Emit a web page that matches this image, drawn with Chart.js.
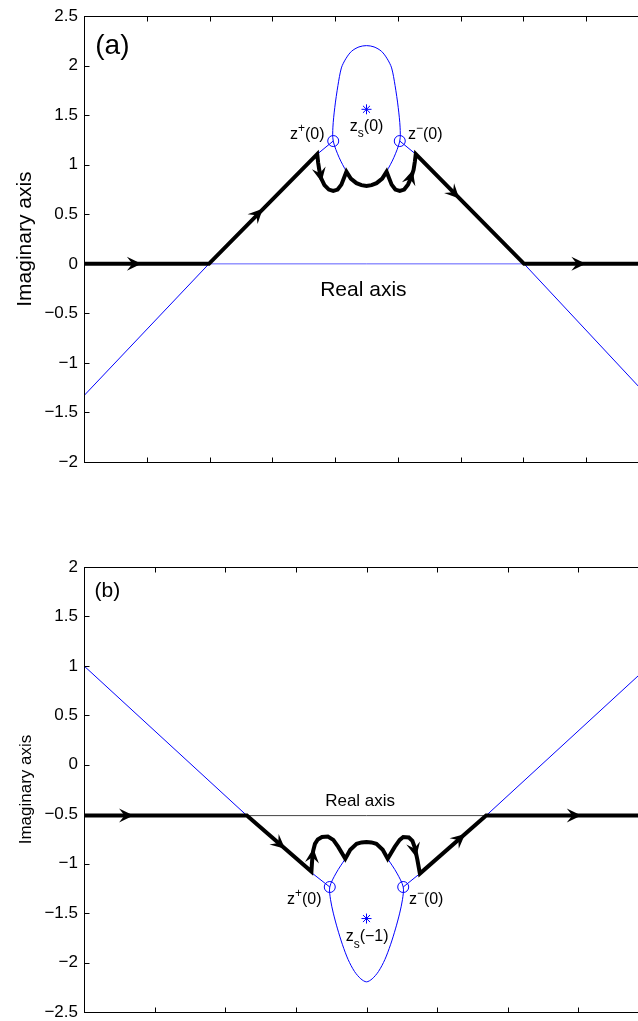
<!DOCTYPE html>
<html>
<head>
<title>Imaginary axis contours</title>
<script src="https://cdn.jsdelivr.net/npm/chart.js"></script>
<style>
  html, body { margin: 0; padding: 0; background: #fff; overflow: hidden; }
  #page { position: relative; width: 638px; height: 1021px; overflow: hidden; background: #fff; }
  canvas { position: absolute; left: 0; }
</style>
</head>
<body>
<div id="page">
  <canvas id="chartA" width="680" height="500" style="top:0px"></canvas>
  <canvas id="chartB" width="680" height="490" style="top:540px"></canvas>
</div>

<script>
// ---- panel (a) ----
var aTicksY = { min: -2, max: 2.5, step: 0.5 };
var aTicksX = { min: -4.5, max: 4.5, step: 1 };

// thick black path with the two hooks
var aPathX = [-4.5, -2.51, -0.785, -0.77, -0.75, -0.72, -0.67, -0.60, -0.53, -0.46, -0.40, -0.32, -0.25, -0.16, -0.08, 0,
              0.08, 0.16, 0.25, 0.32, 0.40, 0.46, 0.53, 0.60, 0.66, 0.71, 0.75, 0.77, 0.785, 2.51, 4.5];
var aPathY = [0, 0, 1.107, 1.02, 0.94, 0.86, 0.795, 0.75, 0.737, 0.75, 0.80, 0.93, 0.86, 0.815, 0.795, 0.787,
              0.795, 0.815, 0.86, 0.93, 0.80, 0.75, 0.737, 0.75, 0.80, 0.87, 0.95, 1.03, 1.107, 0, 0];

// thin blue curves
var aRealX = [-4.5, 4.5];
var aRealY = [0, 0];
var aLeftX = [-4.5, -2.51, -0.785, -0.53];
var aLeftY = [-1.33, 0, 1.107, 1.24];
var aRightX = [0.53, 0.785, 2.51, 4.5];
var aRightY = [1.24, 1.107, 0, -1.35];
var aOvalX = [-0.32, -0.435, -0.53, -0.535, -0.505, -0.455, -0.40, -0.33, -0.24, -0.12, 0, 0.12, 0.24, 0.33, 0.40, 0.455, 0.505, 0.535, 0.53, 0.435, 0.32];
var aOvalY = [0.93, 1.072, 1.24, 1.38, 1.58, 1.80, 1.978, 2.07, 2.145, 2.19, 2.203, 2.19, 2.145, 2.07, 1.978, 1.80, 1.58, 1.38, 1.24, 1.072, 0.93];
var aCircleX = [-0.53, 0.53];
var aCircleY = [1.24, 1.24];
var aStarX = [0];
var aStarY = [1.56];

// arrow heads: tip x, tip y, from x, from y
var aArrows = [[-3.61, 0, -4.5, 0], [-1.67, 0.545, -2.51, 0], [-0.72, 0.84, -0.77, 1.0],
               [0.73, 0.93, 0.66, 0.78], [1.46, 0.67, 0.785, 1.107], [3.47, 0, 2.51, 0]];

// ---- panel (b) ----
var bTicksY = { min: -2.5, max: 2, step: 0.5 };
var bTicksX = { min: -4, max: 4, step: 1 };

var bPathX = [-4, -1.694, -0.78, -0.77, -0.755, -0.73, -0.69, -0.63, -0.547, -0.47, -0.40, -0.30, -0.23, -0.14, -0.07, 0,
              0.07, 0.14, 0.23, 0.30, 0.40, 0.47, 0.52, 0.60, 0.65, 0.685, 0.72, 0.756, 1.694, 4];
var bPathY = [-0.514, -0.514, -1.08, -0.97, -0.87, -0.80, -0.755, -0.73, -0.725, -0.76, -0.83, -0.95, -0.86, -0.80, -0.785, -0.78,
              -0.785, -0.80, -0.86, -0.95, -0.83, -0.76, -0.73, -0.735, -0.77, -0.84, -0.96, -1.10, -0.514, -0.514];

var bRealX = [-4, 4];
var bRealY = [-0.514, -0.514];
var bLeftX = [-4, -1.694, -0.78, -0.52];
var bLeftY = [1.0, -0.514, -1.09, -1.236];
var bRightX = [0.52, 0.756, 1.694, 4];
var bRightY = [-1.236, -1.10, -0.514, 1.0];
var bOvalX = [-0.30, -0.43, -0.52, -0.51, -0.47, -0.41, -0.34, -0.26, -0.17, -0.08, 0, 0.08, 0.17, 0.26, 0.34, 0.41, 0.47, 0.51, 0.52, 0.43, 0.30];
var bOvalY = [-0.95, -1.095, -1.236, -1.36, -1.50, -1.66, -1.82, -1.97, -2.09, -2.165, -2.195, -2.165, -2.09, -1.97, -1.82, -1.66, -1.50, -1.36, -1.236, -1.095, -0.95];
var bCircleX = [-0.52, 0.52];
var bCircleY = [-1.236, -1.236];
var bStarX = [0];
var bStarY = [-1.555];

var bArrows = [[-3.32, -0.514, -4, -0.514], [-1.17, -0.84, -1.694, -0.514], [-0.755, -0.86, -0.78, -1.05],
               [0.70, -0.92, 0.66, -0.79], [1.38, -0.71, 0.756, -1.10], [3.02, -0.514, 1.694, -0.514]];

var FONT = '"Liberation Sans", Arial, Helvetica, sans-serif';
var BLUE = '#0000ff';

function pts(xs, ys) {
    return xs.map(function (x, i) { return { x: x, y: ys[i] }; });
}

function line(xs, ys, color, width, tension) {
    return {
        data: pts(xs, ys), showLine: true, borderColor: color, borderWidth: width,
        pointRadius: 0, tension: tension || 0, borderJoinStyle: 'miter', fill: false
    };
}

function marker(xs, ys, style, r) {
    return {
        data: pts(xs, ys), showLine: false, pointStyle: style, pointRadius: r,
        pointBorderColor: BLUE, pointBackgroundColor: 'rgba(0,0,0,0)', pointBorderWidth: 1
    };
}

// text with super/subscripts: parts = [[text, ''|'sup'|'sub'], ...]
function drawRich(ctx, parts, x, y, size, align) {
    function fnt(k) { return (k ? Math.round(size * 0.75) : size) + 'px ' + FONT; }
    var widths = parts.map(function (p) { ctx.font = fnt(p[1]); return ctx.measureText(p[0]).width; });
    var total = widths.reduce(function (s, w) { return s + w; }, 0);
    var cx = align === 'center' ? x - total / 2 : x;
    ctx.textAlign = 'left';
    ctx.textBaseline = 'alphabetic';
    parts.forEach(function (p, i) {
        ctx.font = fnt(p[1]);
        var dy = p[1] === 'sup' ? -size * 0.42 : (p[1] === 'sub' ? size * 0.38 : 0);
        ctx.fillText(p[0], cx, y + dy);
        cx += widths[i];
    });
}

var decor = {
    id: 'decor',
    afterDatasetsDraw: function (chart, args, opts) {
        var ctx = chart.ctx, a = chart.chartArea, xs = chart.scales.x, ys = chart.scales.y;
        ctx.save();
        ctx.fillStyle = '#000';
        (opts.arrows || []).forEach(function (ar) {
            var tx = xs.getPixelForValue(ar[0]), ty = ys.getPixelForValue(ar[1]);
            var fx = xs.getPixelForValue(ar[2]), fy = ys.getPixelForValue(ar[3]);
            ctx.save();
            ctx.translate(tx, ty);
            ctx.rotate(Math.atan2(ty - fy, tx - fx));
            ctx.beginPath();
            ctx.moveTo(1.5, 0);
            ctx.lineTo(-13, -7);
            ctx.lineTo(-7.5, 0);
            ctx.lineTo(-13, 7);
            ctx.closePath();
            ctx.fill();
            ctx.restore();
        });
        (opts.notes || []).forEach(function (n) {
            ctx.fillStyle = n.color || '#000';
            drawRich(ctx, n.parts, xs.getPixelForValue(n.x), ys.getPixelForValue(n.y), n.size, n.align);
        });
        // box and inward ticks
        var L = Math.round(a.left) + 0.5, T = Math.round(a.top) + 0.5;
        var R = Math.round(a.right) + 0.5, B = Math.round(a.bottom) + 0.5;
        ctx.strokeStyle = '#000';
        ctx.lineWidth = 1;
        ctx.strokeRect(L, T, R - L, B - T);
        ctx.beginPath();
        xs.ticks.forEach(function (t) {
            if (t.value <= xs.min || t.value >= xs.max) return;
            var px = Math.round(xs.getPixelForValue(t.value)) + 0.5;
            ctx.moveTo(px, B); ctx.lineTo(px, B - 5);
            ctx.moveTo(px, T); ctx.lineTo(px, T + 5);
        });
        ys.ticks.forEach(function (t) {
            if (t.value <= ys.min || t.value >= ys.max) return;
            var py = Math.round(ys.getPixelForValue(t.value)) + 0.5;
            ctx.moveTo(L, py); ctx.lineTo(L + 5, py);
            ctx.moveTo(R, py); ctx.lineTo(R - 5, py);
        });
        ctx.stroke();
        ctx.restore();
    }
};

function makeChart(id, datasets, tx, ty, pad, titleSize, titlePad, arrows, notes) {
    return new Chart(document.getElementById(id).getContext('2d'), {
        type: 'scatter',
        data: { datasets: datasets },
        plugins: [decor],
        options: {
            responsive: false,
            animation: false,
            events: [],
            layout: { padding: pad },
            plugins: {
                legend: { display: false },
                tooltip: { enabled: false },
                decor: { arrows: arrows, notes: notes }
            },
            scales: {
                x: {
                    type: 'linear', min: tx.min, max: tx.max,
                    ticks: { display: false, stepSize: tx.step },
                    grid: { display: false },
                    border: { display: false },
                    afterFit: function (s) { s.height = 0; }
                },
                y: {
                    type: 'linear', min: ty.min, max: ty.max,
                    ticks: {
                        stepSize: ty.step, padding: 6, color: '#000',
                        font: { family: FONT, size: 17 },
                        callback: function (v) { return String(Math.round(v * 10) / 10).replace('-', '\u2212'); }
                    },
                    grid: { display: false, drawTicks: false },
                    border: { display: false },
                    title: {
                        display: true, text: 'Imaginary axis', color: '#000',
                        font: { family: FONT, size: titleSize },
                        padding: { top: titlePad, bottom: 0 }
                    },
                    afterFit: function (s) { s.width = 84; }
                }
            }
        }
    });
}

makeChart('chartA', [
    line(aPathX, aPathY, '#000', 4),
    marker(aCircleX, aCircleY, 'circle', 5.5),
    marker(aStarX, aStarY, 'star', 5),
    line(aOvalX, aOvalY, BLUE, 1, 0.3),
    line(aLeftX, aLeftY, BLUE, 1),
    line(aRightX, aRightY, BLUE, 1),
    line(aRealX, aRealY, 'rgba(40,40,255,0.75)', 1)
], aTicksX, aTicksY, { top: 16, bottom: 38, left: 0, right: 31 }, 21, 13, aArrows, [
    { x: -4.32, y: 2.116, size: 28, parts: [['(a)', '']] },
    { x: -1.22, y: 1.26, size: 16, parts: [['z', ''], ['+', 'sup'], ['(0)', '']] },
    { x: -0.265, y: 1.34, size: 16, parts: [['z', ''], ['s', 'sub'], ['(0)', '']] },
    { x: 0.66, y: 1.26, size: 16, parts: [['z', ''], ['\u2212', 'sup'], ['(0)', '']] },
    { x: -0.05, y: -0.32, size: 21, align: 'center', parts: [['Real axis', '']] }
]);

makeChart('chartB', [
    line(bPathX, bPathY, '#000', 4),
    marker(bCircleX, bCircleY, 'circle', 5.5),
    marker(bStarX, bStarY, 'star', 5),
    line(bOvalX, bOvalY, BLUE, 1, 0.3),
    line(bLeftX, bLeftY, BLUE, 1),
    line(bRightX, bRightY, BLUE, 1),
    line(bRealX, bRealY, '#444', 1)
], bTicksX, bTicksY, { top: 27, bottom: 18, left: 0, right: 31 }, 17, 16, bArrows, [
    { x: -3.85, y: 1.70, size: 21, parts: [['(b)', '']] },
    { x: -1.127, y: -1.404, size: 16, parts: [['z', ''], ['+', 'sup'], ['(0)', '']] },
    { x: 0.60, y: -1.404, size: 16, parts: [['z', ''], ['\u2212', 'sup'], ['(0)', '']] },
    { x: -0.295, y: -1.787, size: 16, parts: [['z', ''], ['s', 'sub'], ['(\u22121)', '']] },
    { x: -0.09, y: -0.415, size: 17, align: 'center', parts: [['Real axis', '']] }
]);
</script>
</body>
</html>
